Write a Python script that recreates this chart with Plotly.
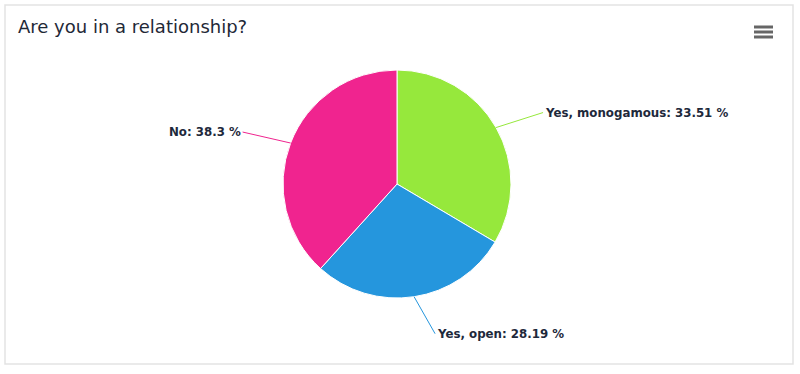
import math
import plotly.graph_objects as go

# ---- data ----
categories = ["Yes, monogamous", "Yes, open", "No"]
values = [33.51, 28.19, 38.3]
label_texts = ["Yes, monogamous: 33.51 %", "Yes, open: 28.19 %", "No: 38.3 %"]

# ---- style ----
colors = ["#96e83c", "#2596dd", "#f0248f"]
W, H = 800, 374
CX, CY, R = 397, 184, 114
# label tail offsets (pixels) relative to slice edge point
label_offsets = [(47, -15), (21, 37), (-48, -11)]
FONT = "DejaVu Sans"

fig = go.Figure(go.Pie(
    labels=categories, values=values, sort=False, direction="clockwise",
    rotation=0, marker=dict(colors=colors, line=dict(color="white", width=1)),
    textinfo="none", hoverinfo="label+percent", showlegend=False,
    domain=dict(x=[(CX - R) / W, (CX + R) / W], y=[1 - (CY + R) / H, 1 - (CY - R) / H]),
))

total = sum(values)
cum = 0.0
annotations = []
for i, v in enumerate(values):
    mid = (cum + v / 2) / total * 2 * math.pi
    cum += v
    hx = CX + R * math.sin(mid)
    hy = CY - R * math.cos(mid)
    ox, oy = label_offsets[i]
    annotations.append(dict(
        x=hx / W, y=1 - hy / H, xref="paper", yref="paper",
        ax=ox, ay=oy, showarrow=True, arrowhead=0, arrowwidth=1,
        arrowcolor=colors[i], text="<b>" + label_texts[i] + "</b>",
        xanchor="left" if ox > 0 else "right", yanchor="middle",
        font=dict(family=FONT, size=11.8, color="#1e293b"),
        standoff=0, startstandoff=0,
    ))

shapes = [
    dict(type="rect", xref="paper", yref="paper",
         x0=5 / W, x1=793 / W, y0=1 - 364 / H, y1=1 - 5 / H,
         line=dict(color="#e3e3e3", width=1.5), fillcolor="rgba(0,0,0,0)", layer="below"),
]
for yy in (27, 32, 37):
    shapes.append(dict(type="line", xref="paper", yref="paper",
                       x0=754 / W, x1=773 / W, y0=1 - yy / H, y1=1 - yy / H,
                       line=dict(color="#666666", width=3)))

fig.update_layout(
    width=W, height=H, margin=dict(l=0, r=0, t=0, b=0),
    paper_bgcolor="white", plot_bgcolor="white",
    title=dict(text="Are you in a relationship?", x=18 / W, xanchor="left",
               xref="paper", yref="paper", y=1 - 27 / H, yanchor="middle",
               font=dict(family=FONT, size=18, color="#1f2937")),
    annotations=annotations, shapes=shapes,
)
fig.write_html("out.html")
